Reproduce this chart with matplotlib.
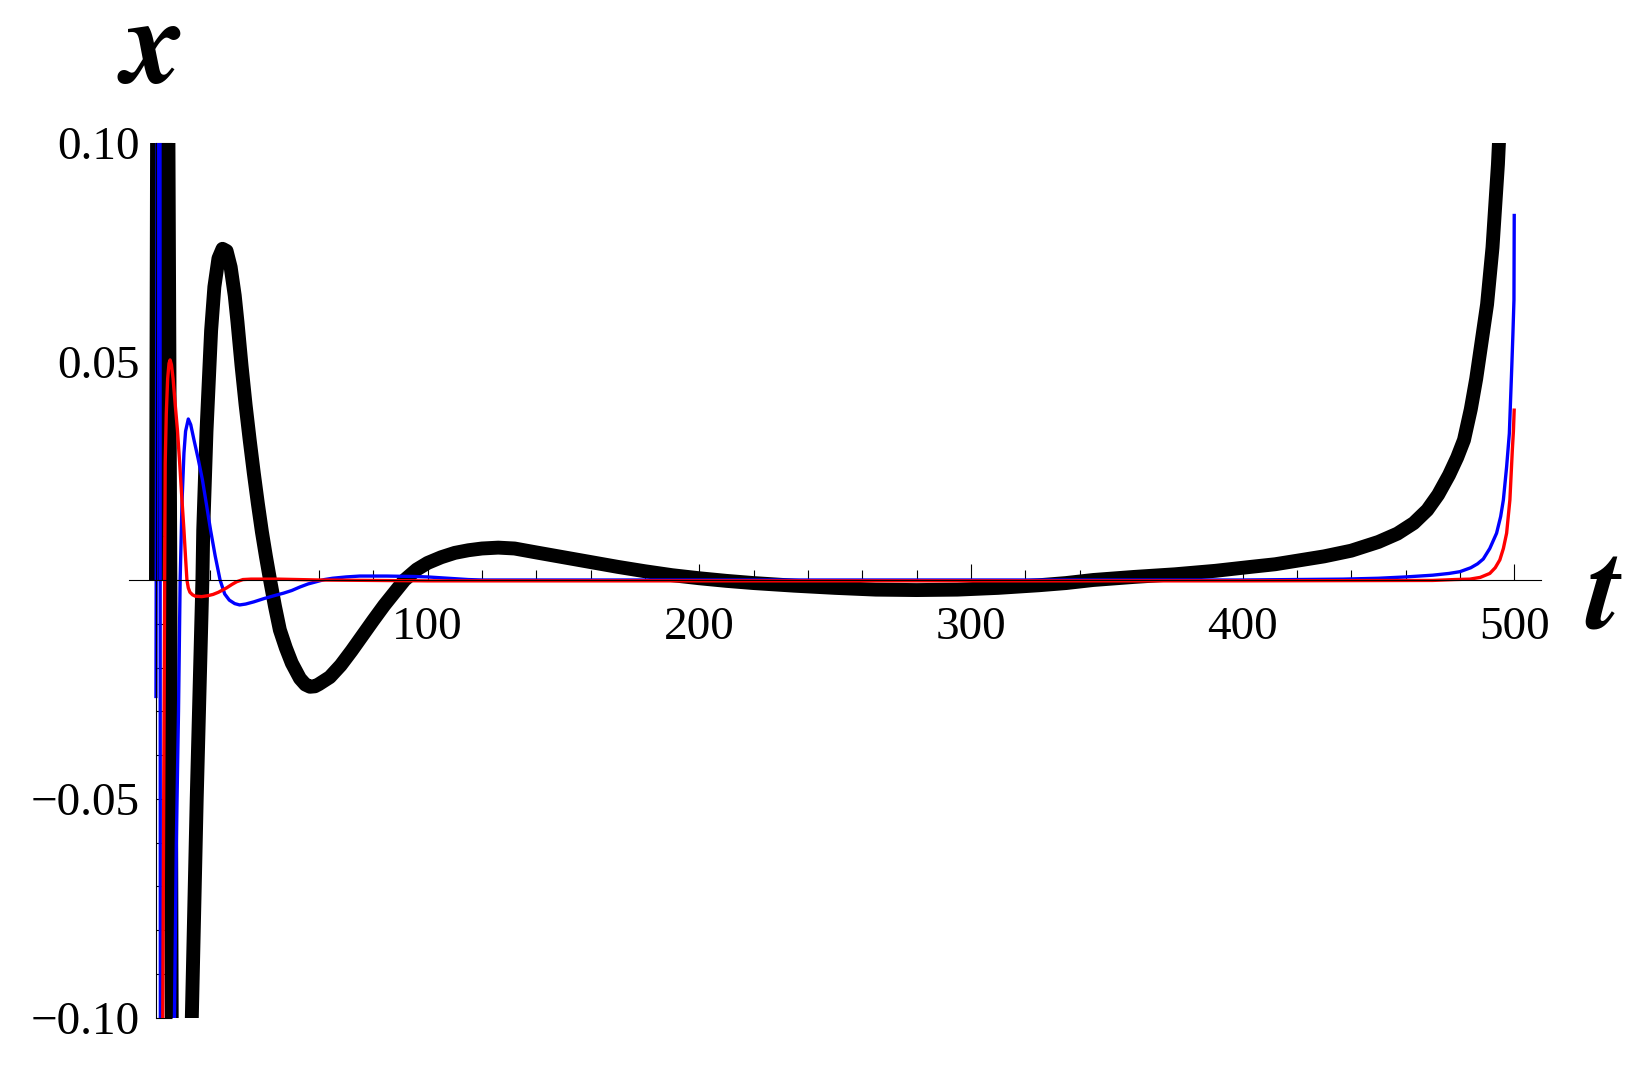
import matplotlib
matplotlib.use("Agg")
import matplotlib.pyplot as plt
from matplotlib.ticker import MultipleLocator, FixedLocator

# black (thick) solution
t_black = [0, 0.8, 2.4, 4.0, 4.6, 5.3, 5.8, 6.3, 9.5, 11.5, 13.2, 15.0, 17.1, 17.4,
           18.6, 20.3, 21.5, 23.0, 24.5, 26.0, 27.5, 29.0, 30.0, 31.5, 33.0, 34.5,
           36.0, 37.5, 39.0, 40.5, 42.0, 43.8, 45.6, 47.8, 50.0, 53.0, 55.0, 56.7,
           58.5, 60.0, 64.0, 68.0, 72.0, 76.0, 80.0, 84.0, 88.0, 91.5,
           96.0, 100, 105, 110, 115, 120, 126, 132, 140, 150, 160, 170, 180, 190,
           200, 210, 220, 235, 250, 265, 280, 295, 310, 325, 335, 345, 360, 375,
           390, 403, 412, 420, 430, 440, 450, 457, 463, 468, 472, 476, 479, 481.5,
           484, 486, 488, 490, 492, 494, 495.5, 497, 498.5, 500]
x_black = [0, 0.2, 0.5, 0.21, 0.1, 0.0, -0.1, -0.2, -0.35, -0.2, -0.1, -0.05, 0.0,
           0.0114, 0.034, 0.057, 0.067, 0.0735, 0.0757, 0.0752, 0.0715, 0.065,
           0.059, 0.049, 0.040, 0.032, 0.0245, 0.0175, 0.011, 0.0053, 0.0, -0.006,
           -0.0114, -0.0155, -0.019, -0.0225, -0.0239, -0.0244, -0.0243, -0.0238,
           -0.0222, -0.0195, -0.0162, -0.0127, -0.0092, -0.0058, -0.0027, 0.0,
           0.0024, 0.0039, 0.0052, 0.0062, 0.0068, 0.0072, 0.0074,
           0.0072, 0.0063, 0.0052, 0.0041, 0.0030, 0.0020, 0.0011, 0.0004,
           -0.0002, -0.0007, -0.0013, -0.0018, -0.0022, -0.0023, -0.0022, -0.0018,
           -0.0012, -0.0007, 0.0, 0.0007, 0.0013, 0.0021, 0.0030, 0.0036, 0.0044,
           0.0054, 0.0067, 0.0087, 0.0106, 0.0130, 0.0160, 0.0195, 0.0240, 0.0280,
           0.0320, 0.0390, 0.0460, 0.0545, 0.0630, 0.0760, 0.0950, 0.115, 0.145,
           0.19, 0.25]

# blue solution
t_blue = [0, 0.9, 1.3, 1.7, 4.0, 6.2, 6.8, 7.5, 8.3, 8.9, 9.6, 10.3, 10.9, 11.9,
          12.8, 14.0, 15.5, 17.1, 18.6, 20.1, 21.8, 23.6, 25.3, 27.0, 29.0, 30.8,
          33, 36, 40, 44, 47, 50, 53, 56, 59, 62, 65, 70, 75, 85, 95, 100, 105, 110,
          115, 120, 200, 300, 400, 437, 450, 460, 470, 476, 480, 484, 486.5, 488.6,
          491, 493.5, 495, 496, 497.2, 498.2, 499.1, 499.5, 499.9, 500]
x_blue = [-0.027, 0.25, 0.4, -0.25, -0.5, -0.2, -0.1, -0.06, -0.03, 0.0, 0.018,
          0.029, 0.034, 0.0368, 0.0355, 0.032, 0.0278, 0.0229, 0.0172, 0.0114,
          0.0055, 0.0, -0.0032, -0.0046, -0.0054, -0.0057, -0.0055, -0.0050,
          -0.0042, -0.0035, -0.0030, -0.0024, -0.0016, -0.0009, -0.0004, 0.0001,
          0.0004, 0.0007, 0.0009, 0.0009, 0.0008, 0.0007, 0.0005, 0.0003, 0.0001,
          0.0, 0.0, 0.0, 0.0, 0.0002, 0.0004, 0.0007, 0.0011, 0.0015, 0.0019,
          0.0028, 0.0037, 0.0048, 0.0072, 0.0107, 0.0145, 0.0183, 0.0259, 0.0335,
          0.0488, 0.056, 0.064, 0.0837]

# red solution
t_red = [0, 1.5, 2.5, 3.2, 3.4, 3.8, 4.3, 4.8, 5.2, 5.7, 6.3, 7.1, 7.9, 8.7, 9.5,
         10.3, 10.9, 11.4, 11.9, 12.5, 13.5, 14.5, 16.8, 19, 21, 23, 24.5, 26, 28,
         29.7, 32, 35, 45, 60, 100, 200, 300, 400, 470, 478, 483.7, 487.5, 491.0,
         493, 494.7, 496, 497.2, 498.4, 499.3, 499.7, 500]
x_red = [-0.5, -0.3, -0.1, 0.0, 0.0267, 0.038, 0.046, 0.0495, 0.0503, 0.0492,
         0.046, 0.040, 0.0343, 0.027, 0.019, 0.0114, 0.005, 0.0, -0.0018, -0.0028,
         -0.0034, -0.0037, -0.0038, -0.0036, -0.0033, -0.0028, -0.0023, -0.0018,
         -0.0010, -0.0004, 0.0001, 0.0002, 0.0002, 0.0, -0.0002, -0.0002, -0.0002,
         -0.0002, -0.0001, 0.0001, 0.0002, 0.0006, 0.0015, 0.0028, 0.0046, 0.0072,
         0.0107, 0.0183, 0.0297, 0.034, 0.0392]

x_major = [100, 200, 300, 400, 500]
y_major = [-0.10, -0.05, 0.05, 0.10]
y_labels = ["\u22120.10", "\u22120.05", "0.05", "0.10"]

plt.rcParams['font.family'] = ['Liberation Serif', 'STIXGeneral', 'DejaVu Serif']

W, H = 1647, 1069
fig = plt.figure(figsize=(W / 100, H / 100), dpi=100)
ax = fig.add_axes([128.8 / W, 51.5 / H, (1541.4 - 128.8) / W, 875 / H])

ax.plot(t_black, x_black, color='black', lw=10, solid_capstyle='butt',
        solid_joinstyle='round', zorder=2)
ax.plot(t_blue, x_blue, color='#0000ff', lw=2.4, solid_capstyle='butt',
        solid_joinstyle='round', zorder=3)
ax.plot(t_red, x_red, color='#ff0000', lw=2.4, solid_capstyle='butt',
        solid_joinstyle='round', zorder=4)

ax.set_xlim(-10, 510)
ax.set_ylim(-0.1, 0.1)

for s in ['top', 'right']:
    ax.spines[s].set_visible(False)
ax.spines['left'].set_position(('data', 0))
ax.spines['bottom'].set_position(('data', 0))
for s in ['left', 'bottom']:
    ax.spines[s].set_linewidth(0.8)
    ax.spines[s].set_zorder(5)

ax.xaxis.set_major_locator(FixedLocator(x_major))
ax.xaxis.set_minor_locator(MultipleLocator(20))
ax.yaxis.set_major_locator(FixedLocator(y_major))
ax.yaxis.set_minor_locator(MultipleLocator(0.01))
ax.set_xticklabels([str(v) for v in x_major])
ax.set_yticklabels(y_labels)

ax.tick_params(axis='both', which='both', direction='in', width=0.8, labelsize=34)
ax.tick_params(axis='both', which='major', length=11.5)
ax.tick_params(axis='both', which='minor', length=7.2)
ax.tick_params(axis='x', which='major', pad=19)
ax.tick_params(axis='y', which='major', pad=12)

fig.text(153 / W, 1 - 82 / H, 'x', ha='center', va='baseline', fontsize=88,
         fontweight='bold', fontstyle='italic', family=['STIXGeneral'])
fig.text(1603 / W, 1 - 629 / H, 't', ha='center', va='baseline', fontsize=88,
         fontweight='bold', fontstyle='italic', family=['STIXGeneral'])

fig.savefig('out.png', dpi=100)
